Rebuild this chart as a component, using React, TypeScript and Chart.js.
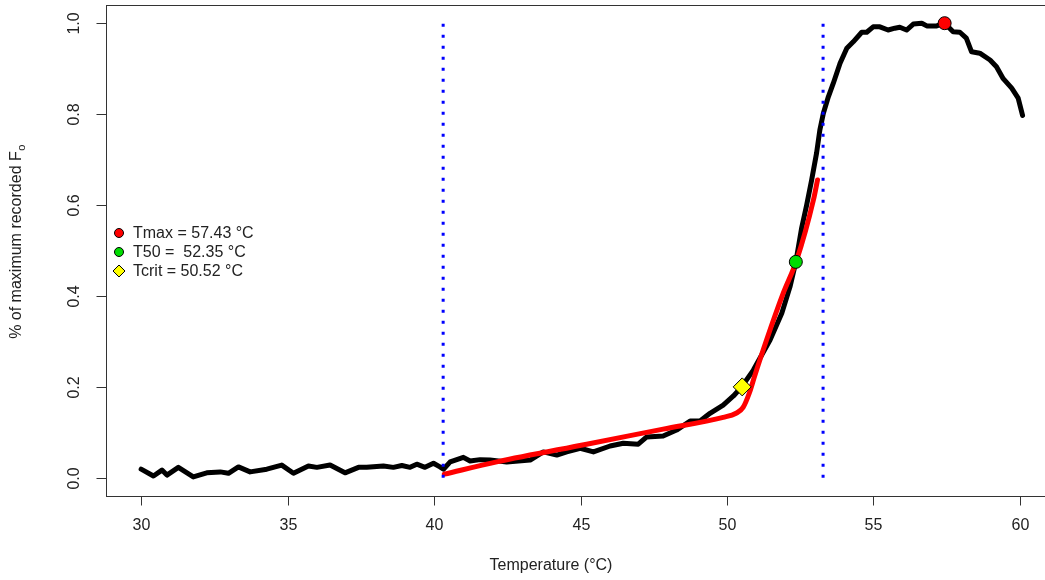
import React, { useEffect, useRef } from "react";
import { Chart, registerables } from "chart.js";

Chart.register(...registerables);

// Measured fluorescence (fraction of maximum recorded Fo) vs temperature
const blackTemp = [
  30.0, 30.42, 30.71, 30.88, 31.27, 31.78, 32.24, 32.7, 32.98, 33.32, 33.72, 34.29,
  34.8, 35.2, 35.71, 36.0, 36.45, 36.96, 37.42, 37.7, 38.27, 38.61, 38.9, 39.18,
  39.41, 39.69, 39.98, 40.2, 40.32, 40.55, 41.0, 41.23, 41.57, 41.91, 42.48, 43.28,
  43.73, 44.19, 44.53, 44.99, 45.44, 46.01, 46.46, 46.97, 47.26, 47.82, 48.28, 48.74,
  49.08, 49.42, 49.87, 50.22, 50.5, 50.9, 51.47, 51.87, 52.15, 52.35, 52.55, 52.72,
  52.89, 53.06, 53.17, 53.29, 53.46, 53.63, 53.86, 54.09, 54.31, 54.6, 54.77, 54.99,
  55.22, 55.5, 55.73, 55.9, 56.13, 56.36, 56.65, 56.82, 57.16, 57.43, 57.72, 57.95,
  58.17, 58.35, 58.63, 58.98, 59.2, 59.43, 59.72, 59.94, 60.09,
];
const blackFo = [
  0.019, 0.004, 0.017, 0.006, 0.023, 0.002, 0.011, 0.013, 0.01, 0.024, 0.013, 0.019,
  0.028, 0.01, 0.026, 0.023, 0.028, 0.011, 0.023, 0.023, 0.026, 0.023, 0.027, 0.023,
  0.03, 0.023, 0.032, 0.024, 0.019, 0.035, 0.045, 0.037, 0.04, 0.039, 0.035, 0.039,
  0.057, 0.05, 0.057, 0.065, 0.057, 0.07, 0.076, 0.074, 0.09, 0.092, 0.105, 0.125,
  0.125, 0.142, 0.16, 0.18, 0.2, 0.237, 0.303, 0.362, 0.42, 0.475, 0.55, 0.6,
  0.655, 0.715, 0.765, 0.802, 0.838, 0.868, 0.912, 0.945, 0.959, 0.98, 0.98, 0.992,
  0.992, 0.985, 0.989, 0.991, 0.985, 0.998, 1.0, 0.994, 0.994, 1.0, 0.981, 0.98,
  0.967, 0.937, 0.934, 0.919, 0.904, 0.878, 0.857, 0.835, 0.797,
];

// Fitted curve (red)
const fitTemp = [40.35, 42.14, 45.21, 47.82, 49.87, 50.31, 50.55, 50.76, 50.95, 51.35, 51.92, 52.38, 52.95, 53.09];
const fitFo = [0.008, 0.035, 0.074, 0.107, 0.133, 0.142, 0.155, 0.186, 0.225, 0.303, 0.406, 0.479, 0.611, 0.655];

// Fit window limits (blue dotted)
const windowTemps = [40.31, 53.28];

// Critical points
const markerNames = ["Tmax = 57.43 °C", "T50 =  52.35 °C", "Tcrit = 50.52 °C"];
const markerTemps = [57.43, 52.35, 50.52];
const markerFo = [1.0, 0.475, 0.2];
const markerColors = ["#ff0000", "#00dd00", "#ffff00"];
const markerShapes = ["circle", "circle", "rectRot"];

const xTicks = [30, 35, 40, 45, 50, 55, 60];
const yTicks = [0, 0.2, 0.4, 0.6, 0.8, 1.0];
const yTickLabels = ["0.0", "0.2", "0.4", "0.6", "0.8", "1.0"];
const xTitle = "Temperature (°C)";
const yTitle = "% of maximum recorded F";
const yTitleSub = "o";

const FONT = '"Liberation Sans", Arial, sans-serif';
const TEXT = "#222";

const framePlugin = {
  id: "rframe",
  afterDraw(chart: any) {
    const ctx = chart.ctx as CanvasRenderingContext2D;
    const xs = chart.scales.x;
    const ys = chart.scales.y;
    const a = chart.chartArea;
    ctx.save();
    ctx.strokeStyle = "#333";
    ctx.lineWidth = 1;
    ctx.strokeRect(Math.round(a.left) + 0.5, Math.round(a.top) + 0.5, Math.round(a.right - a.left), Math.round(a.bottom - a.top));
    const bottom = Math.round(a.bottom) + 0.5;
    const left = Math.round(a.left) + 0.5;
    ctx.fillStyle = TEXT;
    ctx.font = `16px ${FONT}`;
    ctx.textAlign = "center";
    ctx.textBaseline = "middle";
    xTicks.forEach((t) => {
      const px = Math.round(xs.getPixelForValue(t)) + 0.5;
      ctx.beginPath();
      ctx.moveTo(px, bottom);
      ctx.lineTo(px, bottom + 9);
      ctx.stroke();
      ctx.fillText(String(t), px, 526);
    });
    yTicks.forEach((v, i) => {
      const py = Math.round(ys.getPixelForValue(v)) + 0.5;
      ctx.beginPath();
      ctx.moveTo(left, py);
      ctx.lineTo(left - 10, py);
      ctx.stroke();
      ctx.save();
      ctx.translate(75, py);
      ctx.rotate(-Math.PI / 2);
      ctx.fillText(yTickLabels[i], 0, 0);
      ctx.restore();
    });
    // axis titles
    ctx.fillText(xTitle, 551, 566);
    ctx.save();
    ctx.translate(17, 242);
    ctx.rotate(-Math.PI / 2);
    ctx.textAlign = "left";
    const w = ctx.measureText(yTitle).width;
    ctx.font = `11px ${FONT}`;
    const ws = ctx.measureText(yTitleSub).width;
    ctx.font = `16px ${FONT}`;
    const start = -(w + ws) / 2;
    ctx.fillText(yTitle, start, 0);
    ctx.font = `11px ${FONT}`;
    ctx.fillText(yTitleSub, start + w + 0.5, 5);
    ctx.restore();
    // legend
    const rows = [233, 252, 271];
    markerNames.forEach((name, i) => {
      const y = rows[i];
      const x = 119;
      ctx.beginPath();
      if (markerShapes[i] === "circle") {
        ctx.arc(x, y, 4.5, 0, Math.PI * 2);
      } else {
        ctx.moveTo(x, y - 6);
        ctx.lineTo(x + 6, y);
        ctx.lineTo(x, y + 6);
        ctx.lineTo(x - 6, y);
        ctx.closePath();
      }
      ctx.fillStyle = markerColors[i];
      ctx.fill();
      ctx.strokeStyle = "#000";
      ctx.lineWidth = 1;
      ctx.stroke();
      ctx.fillStyle = TEXT;
      ctx.font = `16px ${FONT}`;
      ctx.textAlign = "left";
      ctx.textBaseline = "middle";
      ctx.fillText(name, 133, y + 1);
    });
    ctx.restore();
  },
};

export default function App() {
  const ref = useRef<HTMLCanvasElement>(null);
  useEffect(() => {
    const black = blackTemp.map((t, i) => ({ x: t, y: blackFo[i] }));
    const fit = fitTemp.map((t, i) => ({ x: t, y: fitFo[i] }));
    const datasets: any[] = [];
    markerTemps.forEach((t, i) => {
      datasets.push({
        data: [{ x: t, y: markerFo[i] }],
        showLine: false,
        pointStyle: markerShapes[i],
        pointRadius: markerShapes[i] === "circle" ? 6.5 : 9,
        pointBackgroundColor: markerColors[i],
        pointBorderColor: "#000",
        pointBorderWidth: 1,
        order: 0,
      });
    });
    windowTemps.forEach((t) => {
      datasets.push({
        data: [
          { x: t, y: 0 },
          { x: t, y: 1 },
        ],
        showLine: true,
        borderColor: "#0000ff",
        borderWidth: 3,
        borderDash: [3, 8],
        borderCapStyle: "butt",
        pointRadius: 0,
        order: 1,
      });
    });
    datasets.push({
      data: fit,
      showLine: true,
      borderColor: "#ff0000",
      borderWidth: 5,
      cubicInterpolationMode: "monotone",
      borderJoinStyle: "round",
      borderCapStyle: "round",
      pointRadius: 0,
      order: 2,
    });
    datasets.push({
      data: black,
      showLine: true,
      borderColor: "#000",
      borderWidth: 5,
      tension: 0,
      borderJoinStyle: "round",
      borderCapStyle: "round",
      pointRadius: 0,
      order: 3,
    });
    const chart = new Chart(ref.current!, {
      type: "scatter",
      data: { datasets },
      options: {
        animation: false,
        responsive: false,
        devicePixelRatio: 1,
        layout: { autoPadding: false, padding: { left: 106, right: 4, top: 5, bottom: 84 } },
        plugins: { legend: { display: false }, tooltip: { enabled: false } },
        events: [],
        scales: {
          x: { type: "linear", min: 28.8, max: 61.3, display: false },
          y: { type: "linear", min: -0.04, max: 1.04, display: false },
        },
      },
      plugins: [framePlugin],
    } as any);
    return () => chart.destroy();
  }, []);
  return (
    <div
      style={{
        position: "fixed",
        left: 0,
        top: 0,
        width: 1045,
        height: 580,
        overflow: "hidden",
        background: "#fff",
      }}
    >
      <canvas ref={ref} width={1062} height={580} style={{ display: "block", width: 1062, height: 580 }} />
    </div>
  );
}
